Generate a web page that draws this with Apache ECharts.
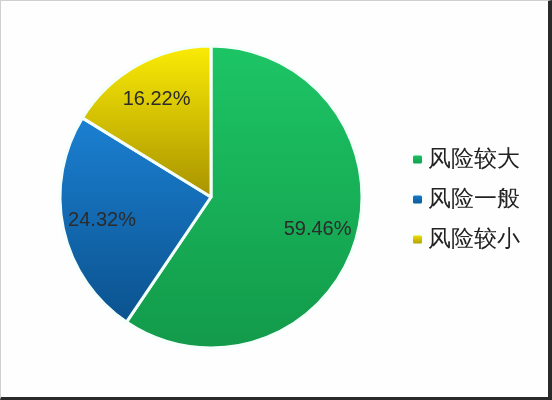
<!DOCTYPE html>
<html>
<head>
<meta charset="utf-8">
<script src="https://cdn.jsdelivr.net/npm/echarts@6/dist/echarts.min.js"></script>
<style>
html, body { margin: 0; padding: 0; background: #fff; }
#main {
    width: 547px; height: 396px;
    border-top: 1px solid #d0d0d0;
    border-left: 1px solid #d0d0d0;
    border-right: 4px solid #2a2a2a;
    border-bottom: 3px solid #2a2a2a;
    background: #fefefe;
}
</style>
</head>
<body>
<div id="main"></div>
<script>
// 风险等级占比
var names = ['风险较大', '风险一般', '风险较小'];
var values = [59.46, 24.32, 16.22];

// 上浅下深的渐变色
var topColors = ['#1dc565', '#1b80d2', '#fbec05'];
var bottomColors = ['#129a4a', '#0b528e', '#a89200'];

function grad(i) {
    return new echarts.graphic.LinearGradient(0, 0, 0, 1, [
        {offset: 0, color: topColors[i]},
        {offset: 1, color: bottomColors[i]}
    ]);
}

var pieData = [];
var labelData = [];
for (var i = 0; i < names.length; i++) {
    pieData.push({value: values[i], name: names[i], itemStyle: {color: grad(i)}});
    labelData.push({value: values[i], name: names[i]});
}

var center = [210, 196];
var chart = echarts.init(document.getElementById('main'));
var option = {
    animation: false,
    textStyle: {fontFamily: 'sans-serif'},
    legend: {
        orient: 'vertical',
        left: 405,
        top: 142,
        itemWidth: 11,
        itemHeight: 10,
        itemGap: 17,
        icon: 'roundRect',
        data: names,
        textStyle: {fontSize: 23, color: '#222'}
    },
    series: [
        {
            type: 'pie',
            center: center,
            radius: [0, 151],
            startAngle: 90,
            clockwise: true,
            silent: true,
            label: {show: false},
            labelLine: {show: false},
            itemStyle: {borderColor: '#f4fffb', borderWidth: 3},
            data: pieData
        },
        {
            // 只用来放百分比文字，让文字偏外一些
            type: 'pie',
            center: center,
            radius: [66, 151],
            startAngle: 90,
            clockwise: true,
            silent: true,
            legendHoverLink: false,
            itemStyle: {color: 'rgba(0,0,0,0)'},
            label: {
                show: true,
                position: 'inside',
                formatter: '{c}%',
                fontSize: 20,
                color: '#2b2b2b',
                fontFamily: 'Liberation Sans'
            },
            labelLine: {show: false},
            data: labelData
        }
    ]
};
chart.setOption(option);
</script>
</body>
</html>
